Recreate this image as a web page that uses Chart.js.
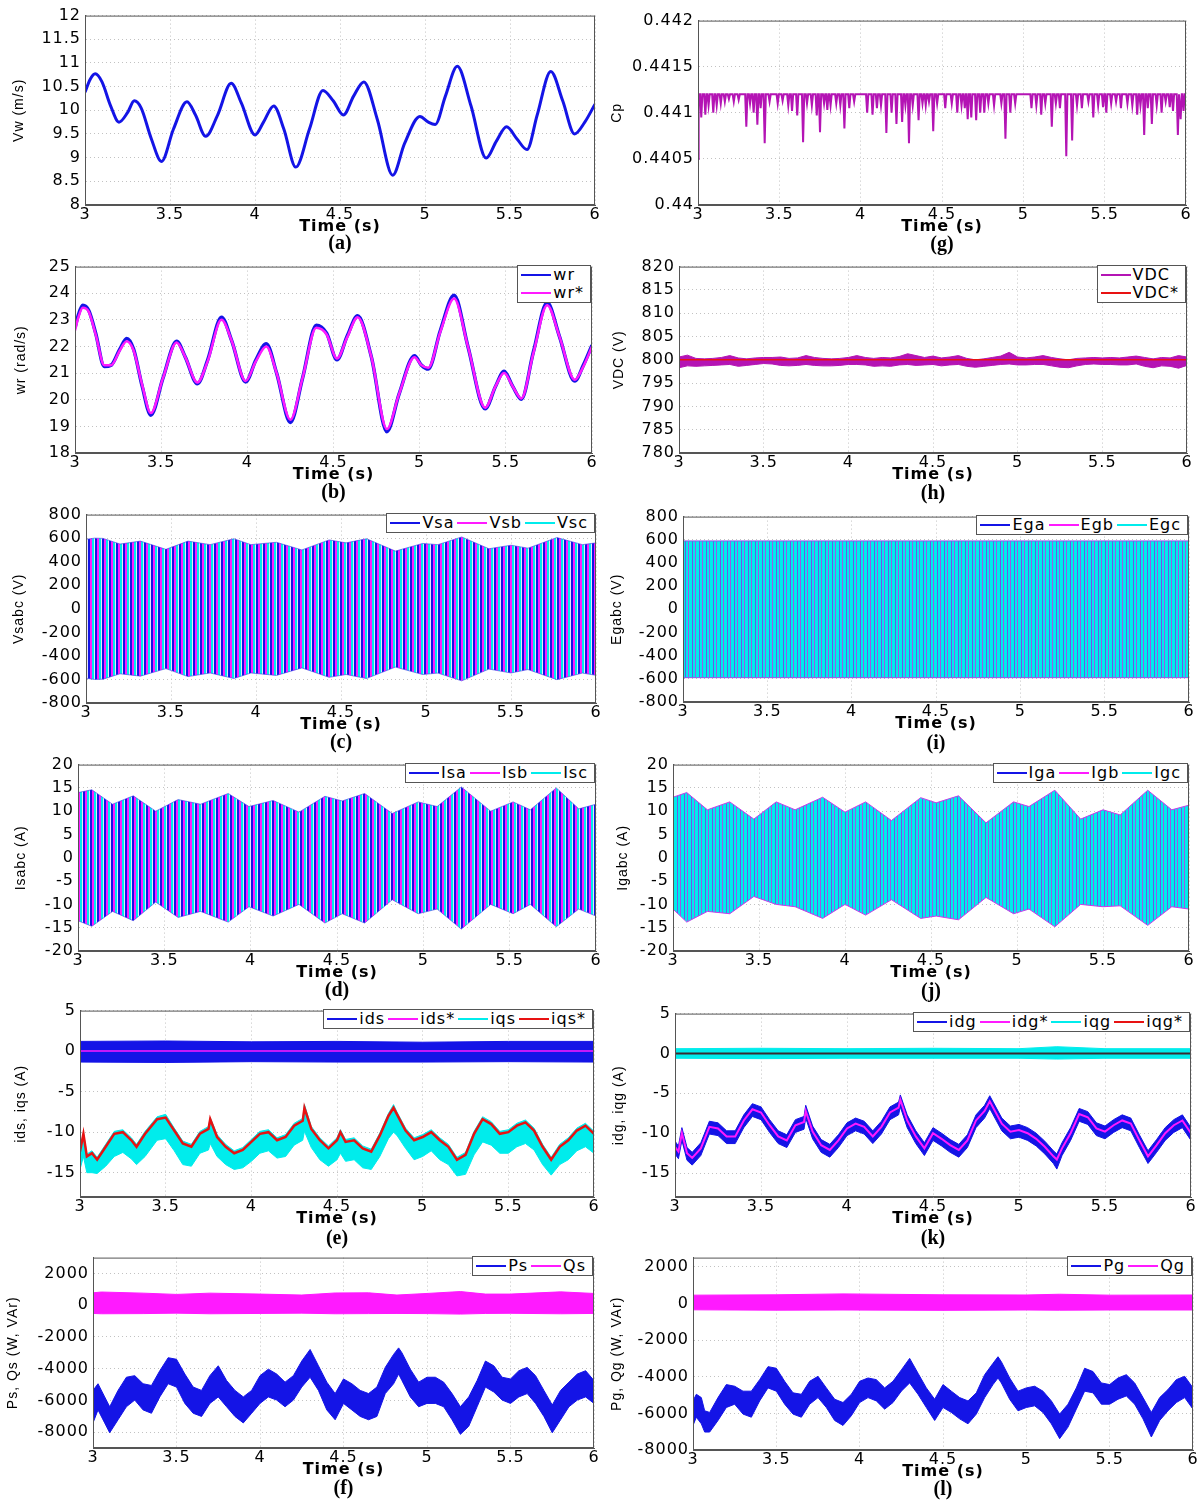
<!DOCTYPE html>
<html>
<head>
<meta charset="utf-8">
<title>Wind turbine simulation results</title>
<script src="https://cdn.jsdelivr.net/npm/chart.js@4.4.0/dist/chart.umd.min.js"></script>
<style>
    body { margin: 0; background: #fff; width: 1204px; height: 1501px; position: relative; overflow: hidden; }
    .panel { position: absolute; }
    .letter { position: absolute; font-family: 'Liberation Serif', serif; font-weight: bold; font-size: 20px; transform: translate(-50%, -50%); }
    .legend { position: absolute; background: #fff; border: 1px solid #555; display: flex; font-family: 'DejaVu Sans', sans-serif; font-size: 16px; letter-spacing: 1px; line-height: 18px; padding: 0 3px; }
    .legend.vertical { flex-direction: column; }
    .legend .item { display: flex; align-items: center; margin-right: 3px; }
    .legend .swatch { width: 30px; height: 2px; margin-right: 2px; }
</style>
</head>
<body>
<script>
// x axis shared by all panels
const xTicks = [3, 3.5, 4, 4.5, 5, 5.5, 6];

// (a) wind speed
const vwTime = [3.00, 3.03, 3.06, 3.10, 3.15, 3.20, 3.25, 3.29, 3.33, 3.39, 3.45, 3.52, 3.60, 3.65, 3.71, 3.78, 3.86, 3.92, 4.00, 4.05, 4.11, 4.17, 4.24, 4.32, 4.40, 4.46, 4.52, 4.58, 4.64, 4.72, 4.81, 4.88, 4.97, 5.02, 5.06, 5.12, 5.19, 5.27, 5.36, 5.42, 5.48, 5.54, 5.60, 5.66, 5.74, 5.81, 5.88, 5.94, 6.00];
const vwValue = [10.38, 10.65, 10.77, 10.6, 10.1, 9.75, 9.95, 10.2, 10.05, 9.4, 8.92, 9.6, 10.18, 9.9, 9.45, 9.9, 10.57, 10.15, 9.48, 9.75, 10.09, 9.6, 8.8, 9.6, 10.42, 10.2, 9.9, 10.3, 10.6, 9.8, 8.63, 9.3, 9.87, 9.75, 9.7, 10.3, 10.93, 10.1, 8.99, 9.35, 9.65, 9.4, 9.17, 9.9, 10.82, 10.2, 9.5, 9.75, 10.13];
const vwTicks = [8, 8.5, 9, 9.5, 10, 10.5, 11, 11.5, 12];

// (b) rotor speed and reference
const wrTime = [3.00, 3.02, 3.045, 3.08, 3.12, 3.17, 3.21, 3.26, 3.30, 3.34, 3.39, 3.44, 3.51, 3.59, 3.64, 3.71, 3.77, 3.85, 3.91, 3.99, 4.05, 4.11, 4.17, 4.25, 4.32, 4.40, 4.46, 4.52, 4.58, 4.64, 4.72, 4.81, 4.88, 4.97, 5.01, 5.05, 5.12, 5.20, 5.28, 5.38, 5.44, 5.49, 5.54, 5.59, 5.66, 5.74, 5.81, 5.90, 5.95, 6.00];
const wrValue = [22.7, 23.2, 23.55, 23.35, 22.5, 21.25, 21.3, 21.9, 22.3, 21.9, 20.5, 19.42, 20.8, 22.2, 21.6, 20.6, 21.5, 23.1, 22.2, 20.67, 21.5, 22.1, 21.0, 19.15, 20.8, 22.8, 22.5, 21.5, 22.4, 23.15, 21.6, 18.8, 20.2, 21.65, 21.3, 21.15, 22.6, 23.92, 22.0, 19.66, 20.5, 21.07, 20.5, 20.02, 21.8, 23.65, 22.4, 20.7, 21.3, 22.05];
const wrRefValue = [22.6, 23.1, 23.45, 23.3, 22.45, 21.3, 21.3, 21.85, 22.2, 21.85, 20.55, 19.5, 20.8, 22.15, 21.6, 20.65, 21.45, 23.0, 22.2, 20.7, 21.45, 22.0, 21.0, 19.25, 20.8, 22.7, 22.45, 21.55, 22.35, 23.1, 21.6, 18.9, 20.2, 21.6, 21.3, 21.2, 22.55, 23.8, 22.0, 19.7, 20.5, 21.0, 20.5, 20.05, 21.75, 23.55, 22.4, 20.75, 21.25, 22.0];
const wrTicks = [18, 19, 20, 21, 22, 23, 24, 25];

// (g) power coefficient: flat top with downward spikes
const cpStart = 0.4405;
const cpTop = 0.4412;
const cpSpikeTime = [3.02, 3.045, 3.065, 3.094, 3.115, 3.14, 3.165, 3.19, 3.22, 3.25, 3.297, 3.32, 3.342, 3.365, 3.385, 3.41, 3.44, 3.49, 3.52, 3.555, 3.578, 3.61, 3.646, 3.67, 3.70, 3.73, 3.75, 3.775, 3.795, 3.815, 3.85, 3.875, 3.90, 3.93, 3.96, 4.04, 4.073, 4.10, 4.125, 4.158, 4.19, 4.22, 4.255, 4.275, 4.297, 4.32, 4.356, 4.38, 4.40, 4.42, 4.446, 4.47, 4.52, 4.56, 4.594, 4.62, 4.64, 4.658, 4.68, 4.71, 4.735, 4.76, 4.785, 4.82, 4.865, 4.89, 4.92, 4.95, 5.05, 5.08, 5.11, 5.135, 5.175, 5.20, 5.225, 5.264, 5.30, 5.33, 5.36, 5.40, 5.43, 5.46, 5.49, 5.51, 5.54, 5.57, 5.60, 5.64, 5.67, 5.70, 5.72, 5.743, 5.765, 5.79, 5.82, 5.85, 5.875, 5.90, 5.92, 5.95, 5.967, 5.985];
const cpSpikeValue = [0.44095, 0.44098, 0.44108, 0.44100, 0.44108, 0.44110, 0.44112, 0.44115, 0.44112, 0.44114, 0.44085, 0.44110, 0.44100, 0.44087, 0.44105, 0.44067, 0.44112, 0.44110, 0.44113, 0.44108, 0.44102, 0.44097, 0.44068, 0.44110, 0.44108, 0.44097, 0.44079, 0.44110, 0.44103, 0.44108, 0.44110, 0.44108, 0.44083, 0.44105, 0.44112, 0.44100, 0.44098, 0.44105, 0.44108, 0.44078, 0.44100, 0.44088, 0.44090, 0.44108, 0.44067, 0.44108, 0.44092, 0.44110, 0.44108, 0.44112, 0.44080, 0.44110, 0.44105, 0.44110, 0.44100, 0.44108, 0.44105, 0.44093, 0.44095, 0.44092, 0.44100, 0.44100, 0.44110, 0.44108, 0.44110, 0.44072, 0.44100, 0.44110, 0.44105, 0.44108, 0.44098, 0.44110, 0.44085, 0.44110, 0.44105, 0.44053, 0.44070, 0.44108, 0.44105, 0.44112, 0.44095, 0.44108, 0.44106, 0.44100, 0.44110, 0.44112, 0.44105, 0.44110, 0.44108, 0.44098, 0.44108, 0.44076, 0.44105, 0.44088, 0.44108, 0.44100, 0.44112, 0.44106, 0.44102, 0.44076, 0.44093, 0.44102];
const cpTicks = [0.44, 0.4405, 0.441, 0.4415, 0.442];

// (h) DC link voltage band and reference
const vdcTime = [3.00, 3.05, 3.10, 3.15, 3.20, 3.25, 3.30, 3.35, 3.40, 3.45, 3.50, 3.55, 3.60, 3.65, 3.70, 3.75, 3.80, 3.85, 3.90, 3.95, 4.00, 4.05, 4.10, 4.15, 4.20, 4.25, 4.30, 4.35, 4.40, 4.45, 4.50, 4.55, 4.60, 4.65, 4.70, 4.75, 4.80, 4.85, 4.90, 4.95, 5.00, 5.05, 5.10, 5.15, 5.20, 5.25, 5.30, 5.35, 5.40, 5.45, 5.50, 5.55, 5.60, 5.65, 5.70, 5.75, 5.80, 5.85, 5.90, 5.95, 6.00];
const vdcHigh = [800.6, 801.0, 800.3, 800.2, 800.3, 800.5, 800.9, 800.4, 800.2, 800.4, 800.5, 800.5, 800.6, 800.3, 800.4, 800.9, 800.5, 800.3, 800.2, 800.3, 800.5, 800.9, 800.5, 800.3, 800.5, 800.4, 800.7, 801.3, 800.9, 800.5, 800.8, 800.4, 800.6, 800.9, 800.3, 800.0, 800.2, 800.5, 800.8, 801.6, 800.6, 800.4, 800.6, 800.9, 800.5, 800.2, 800.0, 800.3, 800.4, 800.5, 800.4, 800.5, 800.4, 800.6, 800.8, 800.5, 800.2, 800.5, 800.4, 800.9, 800.6];
const vdcLow = [798.3, 798.7, 798.6, 798.7, 798.8, 798.9, 799.0, 798.6, 798.8, 799.0, 799.2, 799.1, 798.8, 798.7, 798.8, 799.0, 798.8, 798.7, 798.7, 798.8, 799.0, 799.0, 798.9, 798.6, 798.7, 798.6, 798.9, 799.0, 798.8, 798.9, 799.0, 798.7, 798.9, 799.0, 798.6, 798.4, 798.6, 798.8, 799.0, 799.1, 798.9, 798.9, 799.0, 799.0, 798.7, 798.4, 798.3, 798.7, 799.0, 799.1, 799.0, 799.0, 798.9, 798.9, 799.1, 798.6, 798.3, 798.7, 798.6, 798.2, 798.8];
const vdcRefTime = [3, 6];
const vdcRefValue = [800, 800];
const vdcTicks = [780, 785, 790, 795, 800, 805, 810, 815, 820];

// (c) stator voltages, envelope of the three phases
const vsEnvTime = [3.00, 3.05, 3.10, 3.20, 3.32, 3.47, 3.60, 3.73, 3.87, 3.97, 4.12, 4.27, 4.43, 4.53, 4.65, 4.82, 4.98, 5.07, 5.21, 5.37, 5.50, 5.60, 5.77, 5.92, 6.00];
const vsUpper = [590, 600, 598, 550, 575, 505, 575, 545, 595, 545, 565, 500, 585, 560, 595, 490, 555, 545, 610, 510, 540, 515, 605, 545, 560];
const vsLower = [-590, -600, -598, -552, -572, -508, -576, -545, -592, -545, -566, -502, -582, -558, -592, -495, -558, -546, -612, -512, -545, -516, -602, -546, -565];
const voltTicks = [-800, -600, -400, -200, 0, 200, 400, 600, 800];

// (i) grid side voltages, envelope
const egEnvTime = [3, 6];
const egUpper = [590, 590];
const egLower = [-590, -590];

// (d) stator currents, envelope
const isEnvTime = [3.00, 3.08, 3.20, 3.32, 3.45, 3.58, 3.71, 3.87, 3.99, 4.13, 4.28, 4.43, 4.53, 4.66, 4.82, 4.97, 5.08, 5.22, 5.39, 5.52, 5.62, 5.77, 5.90, 6.00];
const isUpper = [14.0, 14.6, 11.5, 13.3, 10.0, 12.5, 11.5, 13.8, 11.0, 12.3, 9.8, 13.2, 12.2, 13.8, 9.5, 12.0, 11.0, 15.2, 10.0, 12.0, 10.3, 15.0, 10.5, 11.5];
const isLower = [-13.5, -14.7, -11.5, -13.5, -9.5, -12.8, -11.5, -13.8, -10.5, -12.5, -10.0, -14.0, -12.0, -14.0, -9.0, -12.0, -11.0, -15.3, -10.0, -12.0, -10.0, -14.8, -11.0, -12.5];
const currTicks = [-20, -15, -10, -5, 0, 5, 10, 15, 20];

// (j) grid currents, envelope
const igEnvTime = [3.00, 3.08, 3.20, 3.33, 3.47, 3.60, 3.71, 3.87, 4.00, 4.12, 4.27, 4.44, 4.53, 4.66, 4.82, 4.98, 5.07, 5.22, 5.37, 5.50, 5.60, 5.76, 5.90, 6.00];
const igUpper = [13.0, 14.0, 10.3, 12.0, 8.3, 12.0, 10.3, 13.0, 9.8, 12.0, 8.0, 12.9, 11.8, 13.3, 7.5, 12.0, 11.0, 14.5, 8.3, 10.3, 9.2, 14.5, 10.3, 11.3];
const igLower = [-11.0, -13.8, -11.5, -12.0, -8.3, -10.0, -10.5, -13.0, -10.0, -12.3, -9.0, -13.0, -12.5, -13.3, -8.5, -12.0, -11.0, -14.8, -10.0, -10.5, -10.3, -14.5, -10.5, -11.0];

// (e) stator dq currents
const idsTime = [3.0, 3.5, 4.0, 4.5, 5.0, 5.5, 6.0];
const idsHigh = [1.2, 1.25, 1.15, 1.2, 1.1, 1.2, 1.2];
const idsLow = [-1.35, -1.4, -1.3, -1.35, -1.35, -1.3, -1.35];
const idsRefTime = [3, 6];
const idsRefValue = [0, 0];
const iqsTime = [3.00, 3.02, 3.04, 3.07, 3.10, 3.15, 3.20, 3.25, 3.30, 3.33, 3.38, 3.45, 3.50, 3.55, 3.60, 3.65, 3.70, 3.75, 3.76, 3.80, 3.85, 3.90, 3.95, 4.00, 4.05, 4.10, 4.15, 4.20, 4.25, 4.30, 4.31, 4.35, 4.40, 4.45, 4.50, 4.52, 4.55, 4.60, 4.65, 4.70, 4.75, 4.80, 4.83, 4.85, 4.90, 4.95, 5.00, 5.05, 5.10, 5.15, 5.20, 5.25, 5.30, 5.35, 5.40, 5.45, 5.50, 5.55, 5.60, 5.65, 5.70, 5.75, 5.80, 5.85, 5.90, 5.95, 6.00];
const iqsRef = [-12.4, -10.2, -13.0, -12.6, -13.4, -11.8, -10.2, -10.0, -11.0, -11.8, -10.2, -8.4, -8.2, -9.8, -11.4, -11.8, -10.2, -9.6, -8.4, -10.6, -11.8, -12.6, -12.2, -11.2, -10.2, -10.0, -11.0, -10.6, -9.2, -8.6, -7.0, -9.6, -11.0, -12.0, -11.0, -10.0, -11.2, -11.0, -12.0, -12.4, -10.4, -8.0, -7.0, -7.8, -9.8, -11.0, -10.6, -10.0, -11.0, -11.8, -13.4, -12.8, -10.2, -8.4, -9.0, -10.2, -10.0, -9.2, -8.8, -9.8, -11.8, -13.4, -11.8, -11.0, -9.8, -9.2, -10.2];
const iqsHigh = [-12.1, -10.0, -12.7, -12.3, -13.1, -11.5, -9.9, -9.7, -10.7, -11.5, -9.9, -8.1, -7.8, -9.5, -11.1, -11.5, -9.9, -9.3, -8.2, -10.3, -11.5, -12.3, -11.9, -10.9, -9.9, -9.7, -10.7, -10.3, -8.9, -8.3, -6.6, -9.3, -10.7, -11.7, -10.7, -9.7, -10.9, -10.7, -11.7, -12.1, -10.1, -7.7, -6.6, -7.5, -9.5, -10.7, -10.3, -9.7, -10.7, -11.5, -13.1, -12.5, -9.9, -8.1, -8.7, -9.9, -9.7, -8.9, -8.5, -9.5, -11.5, -13.1, -11.5, -10.7, -9.5, -8.9, -9.9];
const iqsLow = [-14.6, -13.0, -15.0, -15.0, -15.1, -14.2, -13.0, -12.5, -13.3, -14.0, -13.0, -11.0, -10.8, -12.3, -14.0, -14.2, -12.6, -12.2, -11.4, -13.0, -14.0, -14.6, -14.4, -13.6, -12.6, -12.3, -13.2, -13.0, -11.6, -11.0, -9.9, -11.9, -13.4, -14.2, -13.4, -12.6, -13.6, -13.4, -14.4, -14.6, -13.0, -10.8, -10.0, -10.4, -12.0, -13.4, -13.0, -12.3, -13.4, -14.0, -15.4, -15.2, -12.8, -11.2, -11.6, -12.6, -12.6, -11.8, -11.4, -12.2, -14.0, -15.3, -14.0, -13.4, -12.3, -11.8, -12.6];
const dqTicks = [-15, -10, -5, 0, 5];

// (k) grid dq currents
const idgTime = [3.00, 3.02, 3.04, 3.07, 3.10, 3.15, 3.20, 3.25, 3.30, 3.35, 3.40, 3.45, 3.50, 3.55, 3.60, 3.65, 3.70, 3.75, 3.76, 3.80, 3.85, 3.90, 3.95, 4.00, 4.05, 4.10, 4.15, 4.20, 4.25, 4.30, 4.31, 4.35, 4.40, 4.45, 4.50, 4.55, 4.60, 4.65, 4.70, 4.75, 4.80, 4.83, 4.85, 4.90, 4.95, 5.00, 5.05, 5.10, 5.15, 5.20, 5.22, 5.25, 5.30, 5.35, 5.40, 5.45, 5.50, 5.55, 5.60, 5.65, 5.70, 5.75, 5.80, 5.85, 5.90, 5.95, 6.00];
const idgRef = [-11.7, -12.3, -10.0, -12.5, -13.1, -11.9, -9.2, -9.4, -10.4, -10.4, -8.4, -7.0, -7.4, -9.0, -10.4, -10.9, -9.0, -8.6, -7.2, -9.8, -11.5, -12.1, -10.9, -9.4, -8.8, -9.2, -10.4, -9.2, -7.4, -6.8, -5.8, -8.4, -10.4, -11.9, -10.0, -10.7, -11.5, -12.1, -10.9, -8.4, -7.2, -6.0, -6.8, -8.8, -9.8, -9.6, -10.0, -10.7, -11.7, -12.9, -13.3, -11.9, -10.0, -7.6, -8.0, -9.4, -9.8, -9.0, -8.4, -8.8, -10.9, -12.9, -11.5, -10.0, -9.0, -8.4, -10.0];
const idgHigh = [-11.0, -11.6, -9.3, -11.8, -12.4, -11.2, -8.5, -8.7, -9.7, -9.7, -7.7, -6.3, -6.7, -8.3, -9.7, -10.2, -8.3, -7.9, -6.5, -9.1, -10.8, -11.4, -10.2, -8.7, -8.1, -8.5, -9.7, -8.5, -6.7, -6.1, -5.2, -7.7, -9.7, -11.2, -9.3, -10.0, -10.8, -11.4, -10.2, -7.7, -6.5, -5.3, -6.1, -8.1, -9.1, -8.9, -9.3, -10.0, -11.0, -12.2, -12.6, -11.2, -9.3, -6.9, -7.3, -8.7, -9.1, -8.3, -7.7, -8.1, -10.2, -12.2, -10.8, -9.3, -8.3, -7.7, -9.3];
const idgLow = [-12.6, -13.2, -10.9, -13.4, -14.0, -12.8, -10.1, -10.3, -11.3, -11.3, -9.3, -7.9, -8.3, -9.9, -11.3, -11.8, -9.9, -9.5, -8.1, -10.7, -12.4, -13.0, -11.8, -10.3, -9.7, -10.1, -11.3, -10.1, -8.3, -7.7, -6.7, -9.3, -11.3, -12.8, -10.9, -11.6, -12.4, -13.0, -11.8, -9.3, -8.1, -6.9, -7.7, -9.7, -10.7, -10.5, -10.9, -11.6, -12.6, -13.8, -14.5, -12.8, -10.9, -8.5, -8.9, -10.3, -10.7, -9.9, -9.3, -9.7, -11.8, -13.8, -12.4, -10.9, -9.9, -9.3, -10.9];
const iqgTime = [3.0, 3.5, 4.0, 4.5, 5.0, 5.22, 5.5, 6.0];
const iqgHigh = [0.6, 0.65, 0.6, 0.65, 0.6, 0.85, 0.6, 0.6];
const iqgLow = [-0.6, -0.65, -0.6, -0.6, -0.6, -0.7, -0.6, -0.6];
const iqgRefTime = [3, 6];
const iqgRefValue = [0, 0];

// (f) stator active / reactive power
const psTime = [3.00, 3.03, 3.07, 3.10, 3.15, 3.20, 3.25, 3.30, 3.35, 3.40, 3.45, 3.50, 3.55, 3.60, 3.65, 3.70, 3.75, 3.80, 3.85, 3.90, 3.95, 4.00, 4.05, 4.10, 4.15, 4.20, 4.25, 4.30, 4.35, 4.40, 4.45, 4.50, 4.55, 4.60, 4.65, 4.70, 4.75, 4.80, 4.83, 4.85, 4.90, 4.95, 5.00, 5.05, 5.10, 5.15, 5.20, 5.25, 5.30, 5.35, 5.40, 5.45, 5.50, 5.55, 5.60, 5.65, 5.70, 5.75, 5.80, 5.85, 5.90, 5.95, 6.00];
const psHigh = [-5370, -4950, -5780, -6400, -5370, -4540, -4440, -4950, -5060, -4130, -3310, -3410, -4340, -5160, -5370, -4440, -3820, -4750, -5370, -5780, -5370, -4440, -4030, -4340, -4850, -4440, -3520, -2790, -3820, -4850, -5570, -4650, -4950, -5370, -5570, -5160, -3920, -3100, -2690, -3000, -4030, -4850, -4540, -4540, -4850, -5570, -6400, -5780, -4750, -3520, -3820, -4540, -4650, -4130, -3920, -4440, -5370, -6290, -5370, -4850, -4340, -4130, -4750];
const psLow = [-7420, -6600, -7420, -8040, -7220, -6400, -5980, -6600, -6810, -5780, -4950, -5160, -6190, -6810, -7010, -6190, -5780, -6400, -7010, -7420, -6810, -6190, -5780, -5980, -6400, -5980, -5160, -4540, -5370, -6600, -7220, -6190, -6600, -7010, -7220, -7010, -5570, -4950, -4340, -4750, -5780, -6400, -6190, -6190, -6400, -7220, -8140, -7630, -6400, -5160, -5470, -5980, -6190, -5780, -5570, -6190, -7010, -8040, -7220, -6400, -5980, -5780, -6190];
const qsTime = [3.0, 3.05, 3.3, 3.5, 3.7, 4.0, 4.25, 4.45, 4.65, 4.82, 5.0, 5.2, 5.35, 5.5, 5.8, 6.0];
const qsHigh = [780, 830, 760, 680, 760, 700, 640, 770, 780, 640, 740, 860, 700, 700, 840, 740];
const qsLow = [-520, -540, -530, -500, -540, -520, -500, -540, -530, -520, -530, -560, -520, -510, -540, -520];
const psTicks = [-8000, -6000, -4000, -2000, 0, 2000];

// (l) grid active / reactive power
const pgTime = [3.00, 3.02, 3.05, 3.07, 3.10, 3.15, 3.20, 3.25, 3.30, 3.35, 3.40, 3.45, 3.50, 3.55, 3.60, 3.65, 3.70, 3.75, 3.80, 3.85, 3.90, 3.95, 4.00, 4.05, 4.10, 4.15, 4.20, 4.25, 4.30, 4.35, 4.40, 4.45, 4.50, 4.55, 4.60, 4.65, 4.70, 4.75, 4.80, 4.83, 4.85, 4.90, 4.95, 5.00, 5.05, 5.10, 5.15, 5.20, 5.25, 5.30, 5.35, 5.40, 5.45, 5.50, 5.55, 5.60, 5.65, 5.70, 5.75, 5.80, 5.85, 5.90, 5.95, 6.00];
const pgHigh = [-5320, -4960, -5140, -5860, -5950, -5140, -4430, -4520, -4790, -4790, -4160, -3450, -3540, -4250, -4880, -4960, -4250, -3980, -4610, -5230, -5410, -4960, -4250, -4070, -4160, -4610, -4250, -3630, -3000, -3810, -4610, -5230, -4430, -4790, -5140, -5320, -4880, -3890, -3270, -2910, -3180, -4070, -4790, -4610, -4520, -4790, -5320, -6040, -5500, -4610, -3540, -3720, -4340, -4430, -4070, -3890, -4340, -5140, -5950, -5140, -4700, -4160, -3980, -4610];
const pgLow = [-6660, -6210, -6570, -7020, -7020, -6390, -5680, -5500, -6040, -6210, -5320, -4610, -4790, -5500, -6040, -6210, -5500, -5140, -5680, -6390, -6660, -6130, -5410, -5140, -5320, -5770, -5410, -4790, -4340, -4960, -5680, -6390, -5680, -5950, -6300, -6570, -6040, -5140, -4430, -4070, -4340, -5230, -5860, -5680, -5590, -5950, -6570, -7380, -6750, -5770, -4790, -4880, -5500, -5500, -5230, -5050, -5500, -6300, -7290, -6390, -5860, -5410, -5140, -5770];
const qgTime = [3.0, 3.5, 3.9, 4.5, 5.0, 5.2, 5.5, 6.0];
const qgHigh = [450, 470, 520, 470, 460, 500, 450, 460];
const qgLow = [-350, -370, -360, -380, -360, -370, -360, -360];
const pgTicks = [-8000, -6000, -4000, -2000, 0, 2000];

const BLUE = '#1414e6';
const MAGENTA = '#ff1aff';
const PURPLE = '#b414b4';
const CYAN = '#00ecec';
const RED = '#e81212';

function pts(xs, ys) {
    return xs.map(function (x, i) { return { x: x, y: ys[i] }; });
}

function lineSet(xs, ys, color, width, order, extra) {
    return Object.assign({
        data: pts(xs, ys), borderColor: color, borderWidth: width,
        pointRadius: 0, fill: false, tension: 0, order: order
    }, extra || {});
}

// two datasets, the upper one filled down to the lower one
function bandSets(xs, lo, hi, fillStyle, edge, order) {
    return [
        { data: pts(xs, lo), borderColor: edge, borderWidth: 1, pointRadius: 0, fill: false, order: order },
        { data: pts(xs, hi), borderColor: edge, borderWidth: 1, pointRadius: 0, fill: '-1', backgroundColor: fillStyle, order: order }
    ];
}

function stripes(colors) {
    const c = document.createElement('canvas');
    c.width = colors.length;
    c.height = 1;
    const g = c.getContext('2d');
    colors.forEach(function (col, i) {
        g.fillStyle = col;
        g.fillRect(i, 0, 1, 1);
    });
    return g.createPattern(c, 'repeat');
}

function cpPoints() {
    const p = [{ x: 3, y: cpStart }, { x: 3.004, y: cpTop }];
    cpSpikeTime.forEach(function (t, i) {
        p.push({ x: t - 0.007, y: cpTop });
        p.push({ x: t, y: cpSpikeValue[i] });
        p.push({ x: t + 0.007, y: cpTop });
    });
    p.push({ x: 6, y: cpTop });
    return p;
}

const stripes3 = stripes([BLUE, BLUE, MAGENTA, MAGENTA, CYAN, CYAN, '#e4e4fa']);
const stripesGrid = stripes([CYAN, CYAN, '#9a5ae8', CYAN, CYAN, CYAN, '#6a5ae8']);

const smooth = { cubicInterpolationMode: 'monotone' };

const panels = [
    { box: [85, 12, 595, 205], titleX: 20, letterY: 242, letter: '(a)', yTitle: 'Vw (m/s)', yTicks: vwTicks,
      datasets: [lineSet(vwTime, vwValue, BLUE, 3, 0, smooth)] },
    { box: [698, 17, 1186, 205], titleX: 618, letterY: 243, letter: '(g)', yTitle: 'Cp', yTicks: cpTicks,
      datasets: [{ data: cpPoints(), borderColor: PURPLE, borderWidth: 2, pointRadius: 0, fill: false }] },
    { box: [75, 263, 592, 453], titleX: 22, letterY: 491, letter: '(b)', yTitle: 'wr (rad/s)', yTicks: wrTicks,
      legend: [['wr', BLUE], ['wr*', MAGENTA]], vertical: true,
      datasets: [lineSet(wrTime, wrRefValue, MAGENTA, 2.5, 0, smooth), lineSet(wrTime, wrValue, BLUE, 3.5, 1, smooth)] },
    { box: [679, 263, 1187, 453], titleX: 620, letterY: 492, letter: '(h)', yTitle: 'VDC (V)', yTicks: vdcTicks,
      legend: [['VDC', PURPLE], ['VDC*', RED]], vertical: true,
      datasets: bandSets(vdcTime, vdcLow, vdcHigh, PURPLE, PURPLE, 1).concat([lineSet(vdcRefTime, vdcRefValue, RED, 1.5, 0)]) },
    { box: [86, 511, 596, 703], titleX: 20, letterY: 741, letter: '(c)', yTitle: 'Vsabc (V)', yTicks: voltTicks,
      legend: [['Vsa', BLUE], ['Vsb', MAGENTA], ['Vsc', CYAN]],
      datasets: bandSets(vsEnvTime, vsLower, vsUpper, stripes3, 'rgba(60,60,230,0.6)', 0) },
    { box: [683, 513, 1189, 702], titleX: 618, letterY: 742, letter: '(i)', yTitle: 'Egabc (V)', yTicks: voltTicks,
      legend: [['Ega', BLUE], ['Egb', MAGENTA], ['Egc', CYAN]],
      datasets: bandSets(egEnvTime, egLower, egUpper, stripesGrid, '#8a5ae8', 0) },
    { box: [78, 761, 596, 951], titleX: 22, letterY: 989, letter: '(d)', yTitle: 'Isabc (A)', yTicks: currTicks,
      legend: [['Isa', BLUE], ['Isb', MAGENTA], ['Isc', CYAN]],
      datasets: bandSets(isEnvTime, isLower, isUpper, stripes3, 'rgba(60,60,230,0.6)', 0) },
    { box: [673, 761, 1189, 951], titleX: 624, letterY: 990, letter: '(j)', yTitle: 'Igabc (A)', yTicks: currTicks,
      legend: [['Iga', BLUE], ['Igb', MAGENTA], ['Igc', CYAN]],
      datasets: bandSets(igEnvTime, igLower, igUpper, stripesGrid, '#c040e8', 0) },
    { box: [80, 1007, 594, 1197], titleX: 22, letterY: 1237, letter: '(e)', yTitle: 'ids, iqs (A)', yTicks: dqTicks, yMin: -18,
      legend: [['ids', BLUE], ['ids*', MAGENTA], ['iqs', CYAN], ['iqs*', RED]],
      datasets: bandSets(idsTime, idsLow, idsHigh, BLUE, BLUE, 3)
          .concat([lineSet(idsRefTime, idsRefValue, MAGENTA, 1.5, 2)])
          .concat(bandSets(iqsTime, iqsLow, iqsHigh, CYAN, CYAN, 1))
          .concat([lineSet(iqsTime, iqsRef, RED, 2.5, 0)]) },
    { box: [675, 1010, 1191, 1197], titleX: 620, letterY: 1237, letter: '(k)', yTitle: 'idg, iqg (A)', yTicks: dqTicks, yMin: -18,
      legend: [['idg', BLUE], ['idg*', MAGENTA], ['iqg', CYAN], ['iqg*', RED]],
      datasets: bandSets(idgTime, idgLow, idgHigh, BLUE, BLUE, 3)
          .concat([lineSet(idgTime, idgRef, MAGENTA, 2, 2)])
          .concat(bandSets(iqgTime, iqgLow, iqgHigh, CYAN, CYAN, 1))
          .concat([lineSet(iqgRefTime, iqgRefValue, '#3a2a30', 2, 0)]) },
    { box: [93, 1254, 594, 1448], titleX: 14, letterY: 1487, letter: '(f)', yTitle: 'Ps, Qs (W, VAr)', yTicks: psTicks, yMin: -9000, yMax: 3000,
      legend: [['Ps', BLUE], ['Qs', MAGENTA]],
      datasets: bandSets(psTime, psLow, psHigh, BLUE, BLUE, 1).concat(bandSets(qsTime, qsLow, qsHigh, MAGENTA, MAGENTA, 0)) },
    { box: [693, 1254, 1193, 1450], titleX: 618, letterY: 1488, letter: '(l)', yTitle: 'Pg, Qg (W, VAr)', yTicks: pgTicks, yMin: -8000, yMax: 2500,
      legend: [['Pg', BLUE], ['Qg', MAGENTA]],
      datasets: bandSets(pgTime, pgLow, pgHigh, BLUE, BLUE, 1).concat(bandSets(qgTime, qgLow, qgHigh, MAGENTA, MAGENTA, 0)) }
];

// axes box drawn over the data, like the original plots
const boxPlugin = {
    id: 'box',
    afterDraw: function (chart) {
        const a = chart.chartArea;
        const c = chart.ctx;
        c.save();
        c.strokeStyle = '#555';
        c.lineWidth = 1;
        c.strokeRect(a.left + 0.5, a.top + 0.5, a.right - a.left - 1, a.bottom - a.top - 1);
        c.restore();
    }
};

// the original labels are set wide, so space the letters a little
const spacingPlugin = {
    id: 'spacing',
    beforeUpdate: function (chart) { chart.ctx.letterSpacing = '1px'; },
    beforeDraw: function (chart) { chart.ctx.letterSpacing = '1px'; }
};

function makePanel(p) {
    const left = p.titleX - 9;
    const yw = p.box[0] - left;
    const w = p.box[2] - left + 14;
    const h = p.box[3] - p.box[1] + 10 + 31;

    const div = document.createElement('div');
    div.className = 'panel';
    div.style.left = left + 'px';
    div.style.top = (p.box[1] - 10) + 'px';
    const canvas = document.createElement('canvas');
    canvas.width = w;
    canvas.height = h;
    div.appendChild(canvas);
    document.body.appendChild(div);

    const tickFont = { family: 'DejaVu Sans', size: 16 };
    new Chart(canvas, {
        type: 'line',
        data: { datasets: p.datasets },
        plugins: [spacingPlugin, boxPlugin],
        options: {
            responsive: false,
            animation: false,
            events: [],
            layout: { padding: { top: 10, right: 14, left: 0, bottom: 0 } },
            plugins: { legend: { display: false }, tooltip: { enabled: false } },
            scales: {
                x: {
                    type: 'linear', min: 3, max: 6,
                    afterBuildTicks: function (s) { s.ticks = xTicks.map(function (v) { return { value: v }; }); },
                    afterFit: function (s) { s.height = 31; },
                    grid: { color: '#c2c2c2', drawTicks: false },
                    border: { color: '#555', dash: [1, 3] },
                    ticks: { font: tickFont, color: '#000', padding: 0, maxRotation: 0, callback: function (v) { return String(v); } },
                    title: { display: true, text: 'Time (s)', color: '#000', padding: { top: 0, bottom: 0 },
                             font: { family: 'DejaVu Sans', size: 16, weight: 'bold' } }
                },
                y: {
                    type: 'linear',
                    min: p.yMin !== undefined ? p.yMin : p.yTicks[0],
                    max: p.yMax !== undefined ? p.yMax : p.yTicks[p.yTicks.length - 1],
                    afterBuildTicks: function (s) { s.ticks = p.yTicks.map(function (v) { return { value: v }; }); },
                    afterFit: function (s) { s.width = yw; },
                    grid: { color: '#c2c2c2', drawTicks: false },
                    border: { color: '#555', dash: [1, 3] },
                    ticks: { font: tickFont, color: '#000', padding: 4, callback: function (v) { return String(v); } },
                    title: { display: true, text: p.yTitle, color: '#000', padding: 0,
                             font: { family: 'Liberation Sans', size: 14 } }
                }
            }
        }
    });

    if (p.legend) {
        const lg = document.createElement('div');
        lg.className = 'legend' + (p.vertical ? ' vertical' : '');
        lg.style.right = (1204 - p.box[2] + 1) + 'px';
        lg.style.top = (p.box[1] + 2) + 'px';
        p.legend.forEach(function (it) {
            const item = document.createElement('div');
            item.className = 'item';
            const sw = document.createElement('span');
            sw.className = 'swatch';
            sw.style.background = it[1];
            const tx = document.createElement('span');
            tx.textContent = it[0];
            item.appendChild(sw);
            item.appendChild(tx);
            lg.appendChild(item);
        });
        document.body.appendChild(lg);
    }

    const letter = document.createElement('div');
    letter.className = 'letter';
    letter.style.left = ((p.box[0] + p.box[2]) / 2) + 'px';
    letter.style.top = p.letterY + 'px';
    letter.textContent = p.letter;
    document.body.appendChild(letter);
}

panels.forEach(makePanel);
</script>
</body>
</html>
